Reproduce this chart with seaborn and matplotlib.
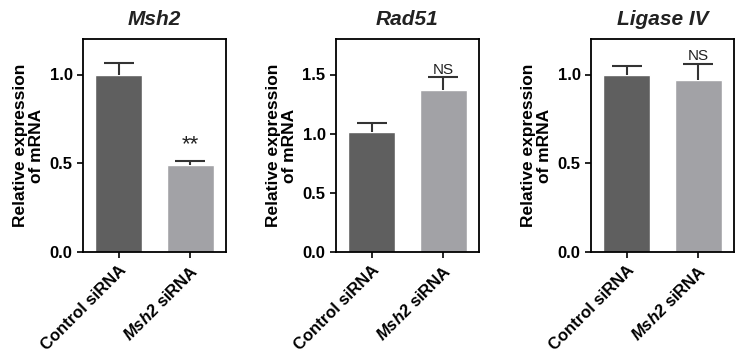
import numpy as np
import pandas as pd
import matplotlib
matplotlib.use("Agg")
import matplotlib.pyplot as plt
import seaborn as sns

# DATA
groups = ["Control siRNA", "Msh2 siRNA"]
tick_labels = ["Control siRNA", r"$\mathbfit{Msh2}$ siRNA"]
genes = ["Msh2", "Rad51", "Ligase IV"]

msh2_mean = [1.00, 0.49]
msh2_err = [0.065, 0.025]
rad51_mean = [1.01, 1.365]
rad51_err = [0.08, 0.11]
lig4_mean = [1.00, 0.97]
lig4_err = [0.05, 0.09]

marks = ["**", "NS", "NS"]
y_tops = [1.2, 1.8, 1.2]
y_ticks = [[0, 0.5, 1.0], [0, 0.5, 1.0, 1.5], [0, 0.5, 1.0]]

colors = ["#5f5f5f", "#a2a2a6"]

sns.set_style("ticks")
plt.rcParams["font.family"] = ["Liberation Sans", "DejaVu Sans"]
plt.rcParams["font.weight"] = "bold"
plt.rcParams["text.color"] = "black"
plt.rcParams["axes.labelcolor"] = "black"
plt.rcParams["xtick.color"] = "black"
plt.rcParams["ytick.color"] = "black"
plt.rcParams["mathtext.fontset"] = "custom"
plt.rcParams["mathtext.bfit"] = "Liberation Sans:italic:bold"
plt.rcParams["mathtext.rm"] = "Liberation Sans:bold"

fig = plt.figure(figsize=(7.43, 3.53), dpi=100)

lefts_px = [83, 336, 591]
means = [msh2_mean, rad51_mean, lig4_mean]
errs = [msh2_err, rad51_err, lig4_err]

for i in range(3):
    ax = fig.add_axes([lefts_px[i] / 743, (353 - 252) / 353, 143 / 743, 213 / 353])
    df = pd.DataFrame({"group": groups, "value": means[i]})
    sns.barplot(data=df, x="group", y="value", hue="group", palette=colors,
                width=0.66, legend=False, ax=ax, saturation=1)

    # upper-only error bars
    x = np.arange(len(groups))
    top = np.array(means[i]) + np.array(errs[i])
    ax.vlines(x, means[i], top, color="#333333", lw=1.5, zorder=3)
    ax.hlines(top, x - 0.21, x + 0.21, color="#333333", lw=1.5, zorder=3)

    # significance mark above second bar
    if marks[i] == "**":
        ax.annotate(marks[i], xy=(1, top[1]), xytext=(0, 4), textcoords="offset points",
                    ha="center", va="bottom", fontsize=16, fontweight="normal",
                    color="#222222")
    else:
        ax.annotate(marks[i], xy=(1, top[1]), xytext=(0, 0.5), textcoords="offset points",
                    ha="center", va="bottom", fontsize=11, fontweight="normal",
                    color="#222222")

    ax.set_xlim(-0.5, 1.5)
    ax.set_ylim(0, y_tops[i])
    ax.set_yticks(y_ticks[i])
    ax.set_yticklabels([f"{t:.1f}" for t in y_ticks[i]], fontsize=12, fontweight="bold")
    ax.set_xticks(x)
    ax.set_xticklabels(tick_labels, rotation=45, ha="right", va="top",
                       rotation_mode="anchor", fontsize=12, fontweight="bold")
    ax.set_xlabel("")
    ax.set_ylabel("Relative expression\nof mRNA", fontsize=12.5, fontweight="bold",
                  linespacing=1.1)
    ax.set_title(genes[i], fontsize=15, fontweight="bold", style="italic", pad=10,
                 color="#222222")

    for s in ax.spines.values():
        s.set_visible(True)
        s.set_linewidth(1.3)
        s.set_color("black")
    ax.tick_params(axis="both", length=4, width=1.2, color="black")

fig.savefig("out.png", dpi=100)
